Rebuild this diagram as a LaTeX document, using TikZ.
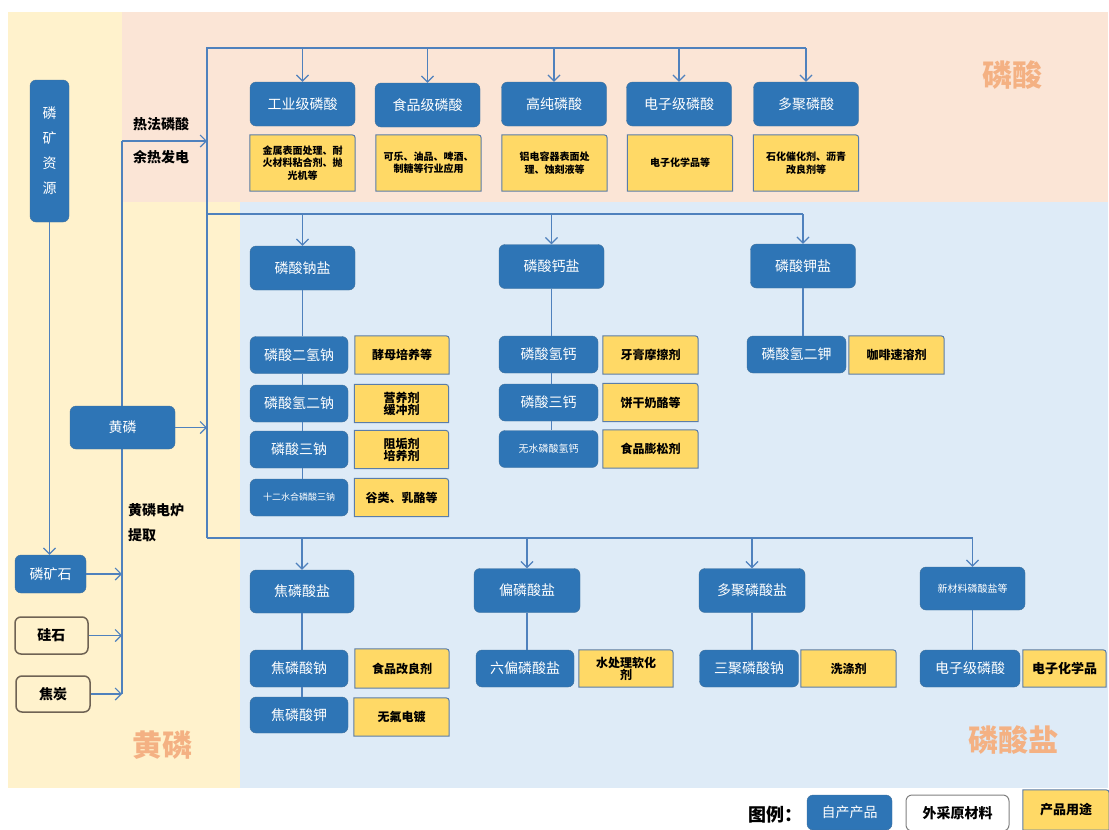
\documentclass[tikz,border=0pt]{standalone}
\usepackage{fontspec}
\setmainfont{Noto Sans CJK SC}
\usetikzlibrary{positioning,calc,arrows.meta}

\definecolor{bluebox}{HTML}{2E75B6}
\definecolor{bluebord}{HTML}{41719C}
\definecolor{linec}{HTML}{4F81BD}
\definecolor{yfill}{HTML}{FFD966}
\definecolor{ybord}{HTML}{5B7DA8}
\definecolor{rawbord}{HTML}{6F6354}
\definecolor{bgpink}{HTML}{FBE5D6}
\definecolor{bgyellow}{HTML}{FFF2CC}
\definecolor{bgblue}{HTML}{DEEBF7}
\definecolor{regorg}{HTML}{F4B183}

\pgfdeclarelayer{bg}
\pgfsetlayers{bg,main}

\tikzset{
    bbox/.style={draw=bluebord, fill=bluebox, rounded corners=6pt, text=white, inner sep=0pt, align=center, font=\fontsize{14}{16}\selectfont},
    topbox/.style={bbox, minimum width=105pt, minimum height=44pt},
    subbox/.style={bbox, minimum width=98pt, minimum height=37pt},
    ybox/.style={inner sep=0pt, align=center, minimum width=94pt, minimum height=38pt, text width=90pt, font=\bfseries\fontsize{12}{12}\selectfont},
    ytop/.style={ybox, minimum width=105pt, minimum height=56pt, text width=98pt, font=\bfseries\fontsize{10}{12.5}\selectfont},
    rawbox/.style={draw=rawbord, line width=1.5pt, rounded corners=6pt, fill=bgyellow, inner sep=0pt, font=\bfseries\fontsize{14}{16}\selectfont},
    conn/.style={draw=linec, line width=1.2pt},
    arr/.style={conn, -{Straight Barb[length=6pt,width=12pt]}},
    lbl/.style={anchor=west, inner sep=0pt, font=\bfseries\fontsize{14}{16}\selectfont},
    region/.style={text=regorg, font=\bfseries\fontsize{30}{32}\selectfont}
}

\begin{document}
\begin{tikzpicture}[x=1pt, y=-1pt]
    \useasboundingbox (0,0) rectangle (1109,830);

    % backgrounds
    \begin{pgfonlayer}{bg}
        \fill[bgyellow] (8,12) rectangle (240,788);
        \fill[bgpink] (122,12) rectangle (1108,202);
        \fill[bgblue] (240,202) rectangle (1108,788);
    \end{pgfonlayer}

    % bus lines
    \coordinate (feed) at (122,141);
    \coordinate (feedbot) at (122,694);
    \coordinate (topbus) at (207,48);
    \coordinate (midbus) at (207,214);
    \coordinate (lowbus) at (207,538);
    \draw[conn] (feedbot) -- (feed);
    \draw[arr] (feed) -- (feed -| topbus);

    % left column
    \node[bbox, minimum width=39pt, minimum height=142pt, font=\fontsize{14}{25}\selectfont] (lkzy) at (49.5,151) {磷\\矿\\资\\源};
    \node[bbox, minimum width=71pt, minimum height=38pt] (lks) at (50.5,574) {磷矿石};
    \node[rawbox, minimum width=73pt, minimum height=37pt] (gs) at (51.5,635.5) {硅石};
    \node[rawbox, minimum width=74pt, minimum height=36pt] (jt) at (53,694) {焦炭};
    \node[topbox, minimum height=43pt] (hl) at (122.5,427.5) {黄磷};

    \node[lbl] (rfls) at (133,124) {热法磷酸};
    \node[lbl] (yrfd) at (133,157) {余热发电};
    \node[lbl] (hldl) at (128,510) {黄磷电炉};
    \node[lbl] (tq) at (128,535) {提取};

    % region names
    \node[region] (lsreg) at (1012,75) {磷酸};
    \node[region] (lsyreg) at (1013,740) {磷酸盐};
    \node[region] (hlreg) at (162,745) {黄磷};

    % phosphoric acid row
    \node[topbox] (gyls) at (302.5,104) {工业级磷酸};
    \node[topbox] (spls) at (427.5,105) {食品级磷酸};
    \node[topbox] (gcls) at (554,104) {高纯磷酸};
    \node[topbox] (dzls) at (679,104) {电子级磷酸};
    \node[topbox] (djls) at (806,104) {多聚磷酸};

    \node[ytop] (ygy) at (302.5,163) {金属表面处理、耐\\火材料粘合剂、抛\\光机等};
    \node[ytop] (ysp) at (428.5,163) {可乐、油品、啤酒、\\制糖等行业应用};
    \node[ytop] (ygc) at (554.5,163) {铝电容器表面处\\理、蚀刻液等};
    \node[ytop] (ydz) at (680,163) {电子化学品等};
    \node[ytop] (ydj) at (806,163) {石化催化剂、沥青\\改良剂等};

    % phosphate salts
    \node[topbox] (lsn) at (302.5,268) {磷酸钠盐};
    \node[topbox] (lsg) at (551.5,266.5) {磷酸钙盐};
    \node[topbox] (lsk) at (803,266) {磷酸钾盐};

    \node[subbox] (na1) at (299,355) {磷酸二氢钠};
    \node[subbox] (na2) at (299,403.5) {磷酸氢二钠};
    \node[subbox] (na3) at (299,449.5) {磷酸三钠};
    \node[subbox, font=\fontsize{9}{10}\selectfont] (na4) at (299,497.5) {十二水合磷酸三钠};
    \node[ybox] (yna1) at (402,355) {酵母培养等};
    \node[ybox] (yna2) at (401.5,403.5) {营养剂\\缓冲剂};
    \node[ybox] (yna3) at (401.5,449.5) {阻垢剂\\培养剂};
    \node[ybox] (yna4) at (401.5,497.5) {谷类、乳酪等};

    \node[subbox, minimum width=99pt] (ca1) at (548.5,354.5) {磷酸氢钙};
    \node[subbox, minimum width=99pt] (ca2) at (548.5,402.5) {磷酸三钙};
    \node[subbox, minimum width=99pt, font=\fontsize{10}{12}\selectfont] (ca3) at (548.5,449) {无水磷酸氢钙};
    \node[ybox, minimum width=95pt] (yca1) at (650.5,355) {牙膏摩擦剂};
    \node[ybox, minimum width=95pt] (yca2) at (650.5,402.5) {饼干奶酪等};
    \node[ybox, minimum width=95pt] (yca3) at (650.5,449) {食品膨松剂};

    \node[subbox, minimum width=99pt] (k1) at (796.5,354.5) {磷酸氢二钾};
    \node[ybox, minimum width=95pt] (yk1) at (896.5,355) {咖啡速溶剂};

    % condensed phosphates
    \node[topbox, minimum width=104pt, minimum height=43pt] (jls) at (302,591.5) {焦磷酸盐};
    \node[subbox] (jna) at (299,668.5) {焦磷酸钠};
    \node[subbox, minimum height=36pt] (jk) at (299,715) {焦磷酸钾};
    \node[ybox, minimum height=39pt] (yjna) at (402,668.5) {食品改良剂};
    \node[ybox, minimum width=95pt] (yjk) at (401.5,717) {无氟电镀};

    \node[topbox, minimum width=106pt] (pls) at (527,590.5) {偏磷酸盐};
    \node[subbox] (lp) at (525,668.5) {六偏磷酸盐};
    \node[ybox, minimum height=37pt] (ylp) at (626,668.5) {水处理软化\\剂};

    \node[topbox, minimum width=106pt] (dlsy) at (752,590.5) {多聚磷酸盐};
    \node[subbox, minimum width=99pt] (sjn) at (749,668.5) {三聚磷酸钠};
    \node[ybox, minimum width=95pt, minimum height=37pt] (ysjn) at (848.5,668.5) {洗涤剂};

    \node[topbox, minimum height=43pt, font=\fontsize{10}{12}\selectfont] (xcl) at (972.5,588.5) {新材料磷酸盐等};
    \node[subbox, minimum width=100pt] (dzj) at (970,668.5) {电子级磷酸};
    \node[ybox, minimum width=83pt, minimum height=37pt, text width=80pt, font=\bfseries\fontsize{13}{14}\selectfont] (ydzj) at (1064.5,668.5) {电子化学品};

    % legend
    \node[font=\bfseries\fontsize{18}{20}\selectfont] (tuli) at (775,815) {图例：};
    \node[bbox, minimum width=85pt, minimum height=35pt] (lgself) at (849.5,812.5) {自产产品};
    \node[draw=gray, line width=1pt, fill=white, rounded corners=6pt, inner sep=0pt, minimum width=103pt, minimum height=36pt, font=\bfseries\fontsize{14}{16}\selectfont] (lgbuy) at (957.5,813) {外采原材料};
    \node[ybox, minimum width=86pt, minimum height=40pt, text width=80pt, font=\bfseries\fontsize{13}{14}\selectfont] (lguse) at (1066,810) {产品用途};

    % arrows in
    \draw[arr] (lkzy.south) -- (lkzy.south |- lks.north);
    \draw[arr] (lks.east) -- (lks.east -| feed);
    \draw[arr] (gs.east) -- (gs.east -| feed);
    \draw[arr] (jt.east) -- (jt.east -| feed);
    \draw[arr] (hl.east) -- (hl.east -| topbus);

    % buses and arrows out
    \draw[conn] (lowbus) -- (topbus) -- (topbus -| djls.north);
    \draw[conn] (midbus) -- (midbus -| lsk.north);
    \draw[conn] (lowbus) -- (lowbus -| xcl.north);
    \foreach \n in {gyls, spls, gcls, dzls, djls}
        \draw[arr] (topbus -| \n.north) -- (\n.north);
    \foreach \n in {lsn, lsg, lsk}
        \draw[arr] (midbus -| \n.north) -- (\n.north);
    \foreach \n in {jls, pls, dlsy, xcl}
        \draw[arr] (lowbus -| \n.north) -- (\n.north);

    % links down the columns
    \foreach \a/\b/\c in {lsn/na1/lsn, na1/na2/lsn, na2/na3/lsn, na3/na4/lsn,
                          lsg/ca1/lsg, ca1/ca2/lsg, ca2/ca3/lsg, lsk/k1/lsk,
                          jls/jna/jls, jna/jk/jls, pls/lp/pls, dlsy/sjn/dlsy, xcl/dzj/xcl}
        \draw[conn] (\a.south -| \c.south) -- (\b.north -| \c.south);

    % product use boxes
    \begin{pgfonlayer}{bg}
        \foreach \n in {ygy, ysp, ygc, ydz, ydj, yna1, yna2, yna3, yna4, yca1, yca2, yca3, yk1,
                        yjna, yjk, ylp, ysjn, ydzj, lguse}
            \draw[ybord, fill=yfill, line width=1pt] (\n.south west) -- (\n.north west)
                -- ([xshift=-7pt]\n.north east) .. controls (\n.north east) .. ([yshift=-7pt]\n.north east)
                -- (\n.south east) -- cycle;
    \end{pgfonlayer}
\end{tikzpicture}
\end{document}
